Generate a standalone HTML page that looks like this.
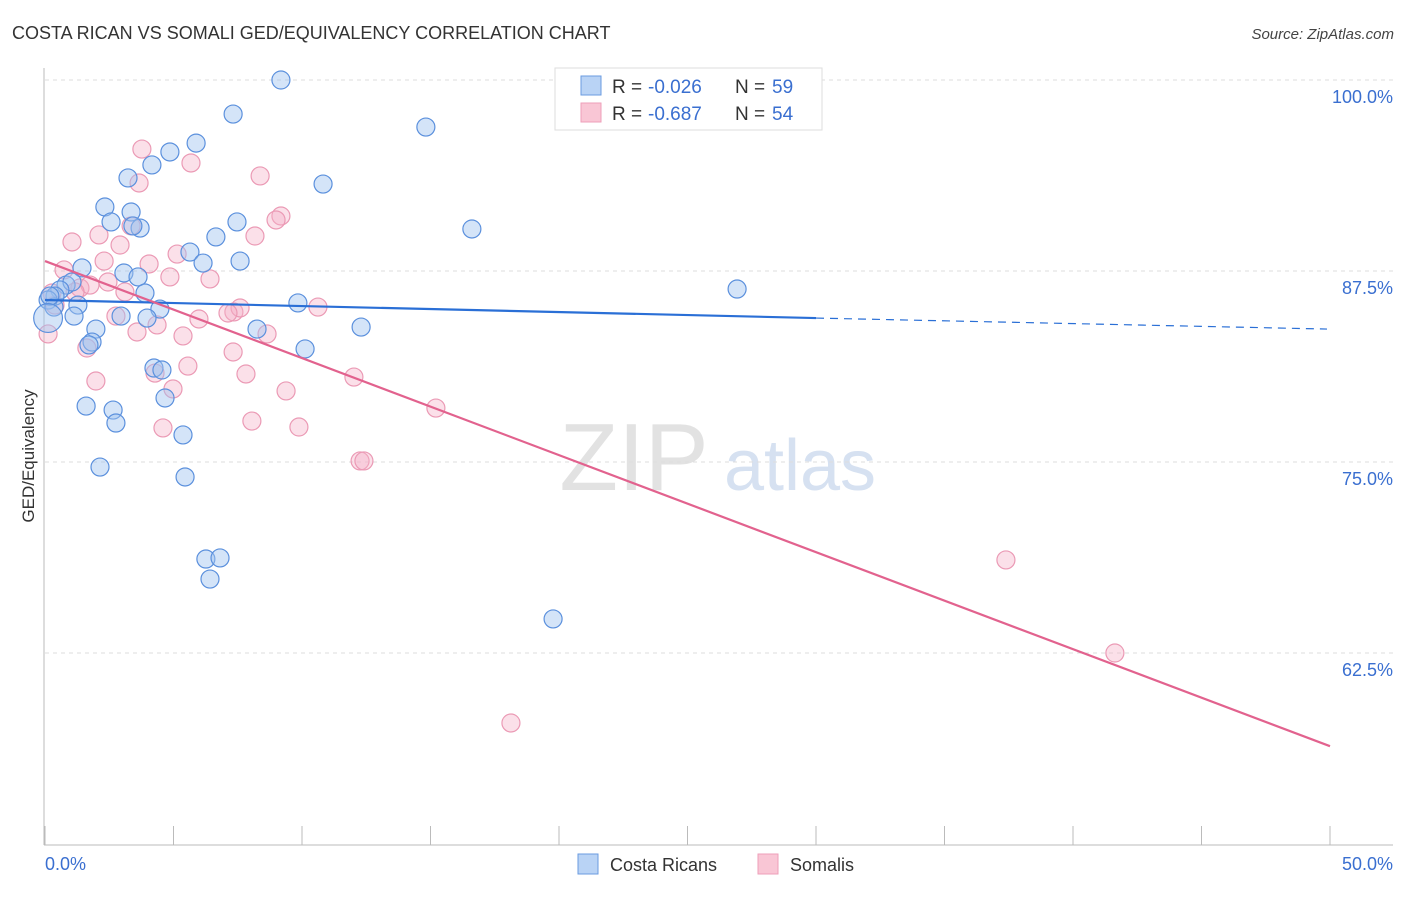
<!DOCTYPE html>
<html><head><meta charset="utf-8"><style>
body{margin:0;background:#fff;font-family:"Liberation Sans",sans-serif}
svg text{font-family:"Liberation Sans",sans-serif}
</style></head><body>
<svg id="chart" width="1406" height="892" viewBox="0 0 1406 892" xmlns="http://www.w3.org/2000/svg">
<text x="12" y="39" font-size="18" fill="#333">COSTA RICAN VS SOMALI GED/EQUIVALENCY CORRELATION CHART</text>
<text x="1394" y="39" font-size="15" fill="#444" text-anchor="end" font-style="italic">Source: ZipAtlas.com</text>
<g>
<text x="634" y="490" font-size="96" fill="#e2e2e2" text-anchor="middle" font-family="Liberation Serif">ZIP</text>
<text x="800" y="490" font-size="72" fill="#d6e1f1" text-anchor="middle">atlas</text>
</g>
<g id="grid"></g>
<g id="axes"></g>
<g id="marks"></g>
<text transform="translate(34,456) rotate(-90)" font-size="17" fill="#333" text-anchor="middle">GED/Equivalency</text>
<g>
<rect x="555" y="68" width="267" height="62" fill="#fff" stroke="#ddd"/>
<rect x="581" y="76" width="20" height="19" fill="#b9d3f5" stroke="#6a9be0"/>
<rect x="581" y="103" width="20" height="19" fill="#f9c6d5" stroke="#ee9fb9"/>
<text x="612" y="93" font-size="19" fill="#333">R =</text>
<text x="648" y="93" font-size="19" fill="#3a6fd0">-0.026</text>
<text x="735" y="93" font-size="19" fill="#333">N =</text>
<text x="772" y="93" font-size="19" fill="#3a6fd0">59</text>
<text x="612" y="120" font-size="19" fill="#333">R =</text>
<text x="648" y="120" font-size="19" fill="#3a6fd0">-0.687</text>
<text x="735" y="120" font-size="19" fill="#333">N =</text>
<text x="772" y="120" font-size="19" fill="#3a6fd0">54</text>
</g>
<g>
<rect x="578" y="854" width="20" height="20" fill="#b9d3f5" stroke="#6a9be0"/>
<text x="610" y="871" font-size="18" fill="#333">Costa Ricans</text>
<rect x="758" y="854" width="20" height="20" fill="#f9c6d5" stroke="#ee9fb9"/>
<text x="790" y="871" font-size="18" fill="#333">Somalis</text>
</g>
</svg>
<script>
const blueX=[9.18,7.32,14.82,5.88,4.86,4.16,3.23,10.82,2.33,3.35,2.57,3.70,3.42,7.47,16.61,6.65,5.64,6.15,7.59,1.44,3.07,3.62,0.82,1.05,0.58,0.39,0.12,3.89,9.84,0.35,1.28,4.47,1.13,2.96,3.97,8.25,1.98,12.30,26.93,1.83,1.71,10.12,4.24,4.55,4.67,1.60,2.65,2.76,5.37,2.14,5.45,6.26,6.81,6.42,19.77,0.19,0.12];
const blueY=[100,97.77,96.92,95.87,95.29,94.44,93.59,93.19,91.69,91.36,90.71,90.31,90.45,90.71,90.25,89.73,88.74,88.02,88.15,87.70,87.37,87.11,86.58,86.78,86.26,85.86,85.60,86.06,85.41,85.14,85.27,85.01,84.55,84.55,84.42,83.70,83.70,83.83,86.32,82.85,82.66,82.40,81.15,81.02,79.19,78.66,78.40,77.55,76.77,74.67,74.02,68.65,68.72,67.34,64.73,85.86,84.42];
const blueSize=[1,1,1,1,1,1,1,1,1,1,1,1,1,1,1,1,1,1,1,1,1,1,1,1,1,1,1,1,1,1,1,1,1,1,1,1,1,1,1,1,1,1,1,1,1,1,1,1,1,1,1,1,1,1,1,1,1.6];
const pinkX=[3.77,5.68,3.66,8.37,9.18,8.99,1.05,2.10,3.35,8.17,2.92,5.14,2.30,4.05,0.74,4.86,6.42,1.36,2.45,3.11,1.75,7.35,7.59,7.12,10.62,5.99,2.76,4.36,3.58,5.37,8.64,0.12,1.63,1.98,5.56,7.32,7.82,4.28,4.98,9.38,12.02,15.21,8.05,4.59,9.88,12.26,12.41,37.39,41.63,18.13,0.27,0.39,1.17];
const pinkY=[95.48,94.57,93.26,93.72,91.10,90.84,89.40,89.86,90.45,89.79,89.20,88.61,88.15,87.96,87.57,87.11,86.98,86.39,86.78,86.13,86.58,84.82,85.08,84.75,85.14,84.36,84.55,83.97,83.51,83.25,83.38,83.38,82.46,80.30,81.28,82.20,80.76,80.82,79.78,79.65,80.56,78.53,77.68,77.23,77.29,75.07,75.07,68.59,62.50,57.92,86.06,85.27,86.13];
const blueTrend=[85.6,84.42,83.7]; // y at x=0, 30, 50
const pinkTrend=[88.15,56.4]; // y at x=0, 50
const yTicks=[100,87.5,75,62.5];
const yTickLabels=["100.0%","87.5%","75.0%","62.5%"];
const xTicks=[0,5,10,15,20,25,30,35,40,45,50];

const NS="http://www.w3.org/2000/svg";
const sx=v=>45+v/50*1285;
const sy=v=>80+(100-v)*15.28;
function mk(tag,attrs,parent){const e=document.createElementNS(NS,tag);for(const k in attrs)e.setAttribute(k,attrs[k]);parent.appendChild(e);return e;}
const grid=document.getElementById('grid'),axes=document.getElementById('axes'),marks=document.getElementById('marks');
yTicks.forEach((t,i)=>{
  const l=mk('line',{x1:45,x2:1393,y1:sy(t),y2:sy(t),stroke:'#ddd','stroke-dasharray':'4,4'},grid);
  
  
  const tx=mk('text',{x:1393,y:sy(t)+23,'font-size':18,fill:'#3a6fd0','text-anchor':'end'},axes);
  tx.textContent=yTickLabels[i];
  
  
});
const ax=mk('line',{x1:44,x2:44,y1:68,y2:845,stroke:'#bbb'},axes);


const bx=mk('line',{x1:44,x2:1393,y1:845,y2:845,stroke:'#bbb'},axes);


xTicks.forEach(t=>{
  const l=mk('line',{x1:sx(t),x2:sx(t),y1:826,y2:845,stroke:'#bbb'},axes);
  
  
});
const xl0=mk('text',{x:45,y:870,'font-size':18,fill:'#3a6fd0'},axes);xl0.textContent='0.0%';


const xl1=mk('text',{x:1393,y:870,'font-size':18,fill:'#3a6fd0','text-anchor':'end'},axes);xl1.textContent='50.0%';



pinkX.forEach((x,i)=>{
  const c=mk('circle',{cx:sx(x),cy:sy(pinkY[i]),r:9,fill:'rgba(246,178,200,0.4)',stroke:'#eb9ab5','stroke-width':1.2},marks);
  
  
});
blueX.forEach((x,i)=>{
  const c=mk('circle',{cx:sx(x),cy:sy(blueY[i]),r:9*blueSize[i],fill:'rgba(160,196,240,0.45)',stroke:'#5b90dd','stroke-width':1.2},marks);
  
  
});
const bt=mk('line',{x1:sx(0),y1:sy(blueTrend[0]),x2:sx(30),y2:sy(blueTrend[1]),stroke:'#2a6fd6','stroke-width':2.2},marks);


const bd=mk('line',{x1:sx(30),y1:sy(blueTrend[1]),x2:sx(50)-3,y2:sy(blueTrend[2]),stroke:'#2a6fd6','stroke-width':1.2,'stroke-dasharray':'8,6'},marks);


const pt=mk('line',{x1:sx(0),y1:sy(pinkTrend[0]),x2:sx(50),y2:sy(pinkTrend[1]),stroke:'#e2628e','stroke-width':2.2},marks);


</script>
</body></html>
